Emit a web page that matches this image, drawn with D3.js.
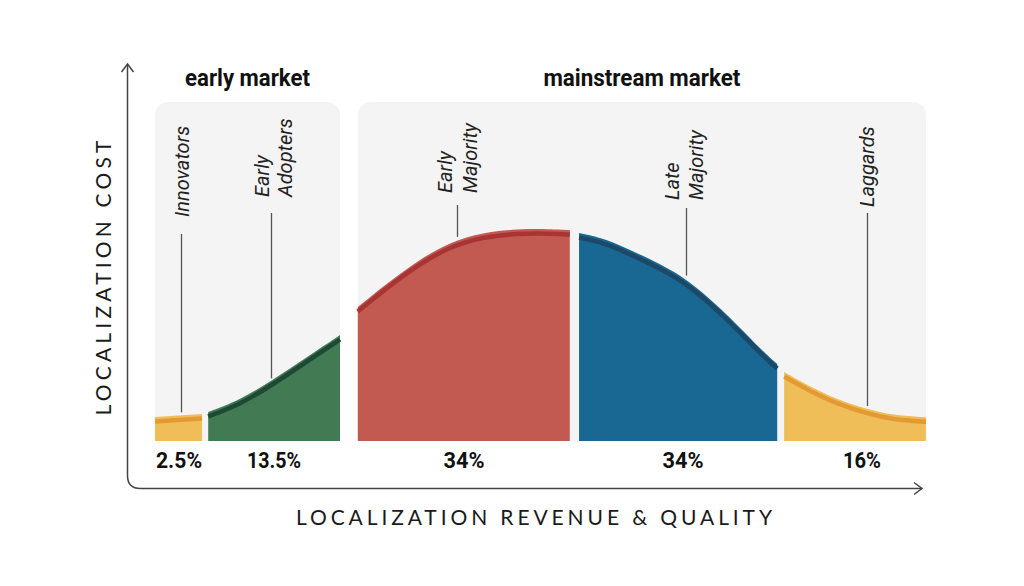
<!DOCTYPE html>
<html>
<head>
<meta charset="utf-8">
<script src="https://cdn.jsdelivr.net/npm/d3@7"></script>
<style>
  html, body { margin: 0; padding: 0; background: #ffffff; }
  svg { display: block; }
</style>
</head>
<body>
<svg id="chart" width="1024" height="586"></svg>
<script>
// ---------------- data ----------------
const segNames  = ["Innovators", "Early Adopters", "Early Majority", "Late Majority", "Laggards"];
const segLabelLines = [["Innovators"], ["Early", "Adopters"], ["Early", "Majority"], ["Late", "Majority"], ["Laggards"]];
const segShare  = ["2.5%", "13.5%", "34%", "34%", "16%"];
const segStart  = [0, 6.9, 26.3, 55.0, 81.6];
const segEnd    = [6.1, 24.0, 53.8, 80.7, 100];
const groupNames = ["early market", "mainstream market"];
const groupStart = [0, 26.3];
const groupEnd   = [24.0, 100];

// adoption curve (x position 0..100, height 0..100)
const curveX = [0, 6.1, 6.9, 11.0, 15.3, 19.7, 24.0, 26.3, 29.6, 34.0, 38.3, 42.5, 47.0, 51.2, 53.8,
                55.0, 57.7, 61.2, 65.5, 69.0, 74.2, 78.5, 80.7, 81.6, 85.0, 88.5, 92.3, 95.7, 100];
const curveY = [11.3, 12.7, 13.7, 19.3, 28.8, 39.6, 50.0, 63.2, 73.0, 85.0, 93.9, 98.4, 100, 100, 99.5,
                98.1, 96.2, 91.0, 83.5, 76.4, 59.9, 43.4, 36.3, 32.5, 25.6, 19.6, 15.1, 12.2, 11.2];

// leader-line anchor (x position) per segment
const leaderX = [3.4, 15.0, 39.2, 68.9, 92.3];

const xAxisTitle = "LOCALIZATION REVENUE & QUALITY";
const yAxisTitle = "LOCALIZATION COST";

// ---------------- styling ----------------
const fillColors   = ["#F0BE58", "#427B53", "#C25A52", "#186893", "#F0BE58"];
const strokeColors = ["#E39A32", "#1E4A35", "#A83533", "#1D4868", "#E39A32"];
const labelBottom  = [217, 197, 193, 200, 207];
const lineTop      = [234, 213, 205, 208, 213];
const labelCenterX = [[182], [262, 285], [445, 470], [672, 696], [867]];
const shareCenterX = [179, 274, 464, 683, 862];
const shareWidth   = [46, 54, 41, 41, 38];

const svg = d3.select("#chart");
const x = d3.scaleLinear().domain([0, 100]).range([155, 926]);
const y = d3.scaleLinear().domain([0, 100]).range([441, 229]);

const pts = curveX.map((v, i) => ({x: v, y: curveY[i]}));

// panels
const panelTop = 102;
groupNames.forEach((g, i) => {
  const x0 = x(groupStart[i]), x1 = x(groupEnd[i]);
  svg.append("rect")
    .attr("x", x0).attr("y", panelTop)
    .attr("width", x1 - x0).attr("height", y(0) - panelTop)
    .attr("rx", 13).attr("ry", 13)
    .attr("fill", "#F4F4F4");
  svg.append("text")
    .attr("x", (x0 + x1) / 2).attr("y", 86)
    .attr("text-anchor", "middle")
    .attr("font-family", "Roboto, sans-serif")
    .attr("font-weight", 700)
    .attr("font-size", 24)
    .attr("fill", "#111")
    .attr("textLength", i === 0 ? 125 : 197)
    .attr("lengthAdjust", "spacingAndGlyphs")
    .text(g);
});

// areas
const area = d3.area().x(d => x(d.x)).y0(y(0)).y1(d => y(d.y)).curve(d3.curveBasis);
const line = d3.line().x(d => x(d.x)).y(d => y(d.y)).curve(d3.curveBasis);

segNames.forEach((name, i) => {
  const s = segStart[i], e = segEnd[i];
  const segPts = pts.filter(p => p.x >= s - 1e-9 && p.x <= e + 1e-9);
  svg.append("path").attr("d", area(segPts)).attr("fill", fillColors[i]);
  svg.append("path").attr("d", line(segPts))
    .attr("transform", "translate(0,4.5)")
    .attr("fill", "none")
    .attr("stroke", strokeColors[i])
    .attr("stroke-width", 4.5);

  // leader line
  const lx = Math.round(x(leaderX[i])) + 0.5;
  const ly = d3.scaleLinear().domain(curveX).range(curveY)(leaderX[i]);
  svg.append("line")
    .attr("x1", lx).attr("x2", lx)
    .attr("y1", lineTop[i]).attr("y2", y(ly) - 3)
    .attr("stroke", "#555").attr("stroke-width", 1.3);

  // rotated labels
  segLabelLines[i].forEach((t, j) => {
    const cx = labelCenterX[i][j], by = labelBottom[i];
    svg.append("text")
      .attr("transform", `translate(${cx},${by}) rotate(-90)`)
      .attr("dominant-baseline", "central")
      .attr("font-family", "Roboto, sans-serif")
      .attr("font-style", "italic")
      .attr("font-size", 20)
      .attr("fill", "#222")
      .text(t);
  });

  // share labels
  svg.append("text")
    .attr("x", shareCenterX[i]).attr("y", 468)
    .attr("text-anchor", "middle")
    .attr("font-family", "Roboto, sans-serif")
    .attr("font-weight", 700)
    .attr("font-size", 22)
    .attr("fill", "#111")
    .attr("textLength", shareWidth[i])
    .attr("lengthAdjust", "spacingAndGlyphs")
    .text(segShare[i]);
});

// axes with rounded corner and open arrowheads
const ax = 127.5, ay = 488.5, r = 13, topY = 64, rightX = 922;
svg.append("path")
  .attr("d", `M${ax},${topY} L${ax},${ay - r} Q${ax},${ay} ${ax + r},${ay} L${rightX},${ay}`)
  .attr("fill", "none").attr("stroke", "#444").attr("stroke-width", 1.5);
svg.append("path")
  .attr("d", `M${ax - 6},${topY + 8} L${ax},${topY} L${ax + 6},${topY + 8}`)
  .attr("fill", "none").attr("stroke", "#444").attr("stroke-width", 1.5);
svg.append("path")
  .attr("d", `M${rightX - 8},${ay - 6} L${rightX},${ay} L${rightX - 8},${ay + 6}`)
  .attr("fill", "none").attr("stroke", "#444").attr("stroke-width", 1.5);

// axis titles
svg.append("text")
  .attr("x", 534).attr("y", 525)
  .attr("text-anchor", "middle")
  .attr("font-family", "Lato, 'Open Sans', sans-serif")
  .attr("font-weight", 400)
  .attr("font-size", 21)
  .attr("fill", "#1a1a1a")
  .attr("textLength", 476)
  .attr("lengthAdjust", "spacing")
  .text(xAxisTitle);
svg.append("text")
  .attr("transform", "translate(111,278) rotate(-90)")
  .attr("text-anchor", "middle")
  .attr("font-family", "Lato, 'Open Sans', sans-serif")
  .attr("font-weight", 400)
  .attr("font-size", 21)
  .attr("fill", "#1a1a1a")
  .attr("textLength", 275)
  .attr("lengthAdjust", "spacing")
  .text(yAxisTitle);
</script>
</body>
</html>
